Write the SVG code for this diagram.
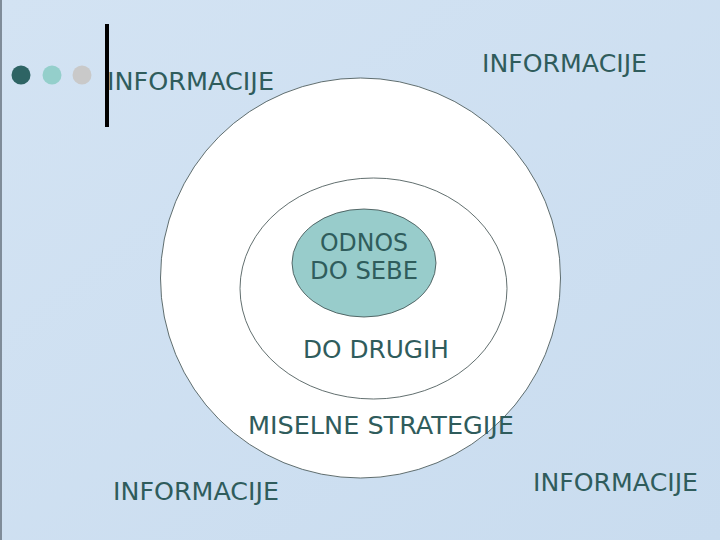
<svg xmlns="http://www.w3.org/2000/svg" width="720" height="540" viewBox="0 0 720 540">
<defs>
<style>
.t{font-family:"DejaVu Sans","Liberation Sans",sans-serif;font-size:24px;fill:#2f5c5c}
.c{fill:#ffffff;stroke:#3a4a4a;stroke-width:0.8}
</style>
<linearGradient id="bg" x1="0" y1="0" x2="1" y2="1">
<stop offset="0" stop-color="#d3e3f3"/>
<stop offset="1" stop-color="#c9dcef"/>
</linearGradient>
</defs>
<rect x="0" y="0" width="720" height="540" fill="url(#bg)"/>
<line x1="1" y1="0" x2="1" y2="540" stroke="#7f8c99" stroke-width="2"/>
<g id="decor">
<circle cx="21" cy="75" r="9.5" fill="#2e6464"/>
<circle cx="52" cy="75" r="9.5" fill="#94cfcb"/>
<circle cx="82" cy="75" r="9.5" fill="#c9c9c9"/>
<rect x="105" y="24" width="4" height="103" fill="#000"/>
</g>
<g id="outer">
<circle class="c" cx="360.5" cy="278" r="200"/>
</g>
<g id="middle">
<ellipse class="c" cx="373.5" cy="288.5" rx="133.5" ry="110.5"/>
</g>
<g id="inner">
<ellipse cx="364" cy="263" rx="72" ry="54" fill="#98cccb" stroke="#3a4a4a" stroke-width="0.8"/>
<text class="t" x="320" y="251" textLength="88" lengthAdjust="spacingAndGlyphs">ODNOS</text>
<text class="t" x="310" y="279" textLength="108" lengthAdjust="spacingAndGlyphs">DO SEBE</text>
</g>
<g id="labels">
<text class="t" x="107" y="90" textLength="167" lengthAdjust="spacingAndGlyphs">INFORMACIJE</text>
<text class="t" x="482" y="72" textLength="165" lengthAdjust="spacingAndGlyphs">INFORMACIJE</text>
<text class="t" x="303" y="358" textLength="146" lengthAdjust="spacingAndGlyphs">DO DRUGIH</text>
<text class="t" x="248" y="434" textLength="266" lengthAdjust="spacingAndGlyphs">MISELNE STRATEGIJE</text>
<text class="t" x="113" y="500" textLength="166" lengthAdjust="spacingAndGlyphs">INFORMACIJE</text>
<text class="t" x="533" y="491" textLength="165" lengthAdjust="spacingAndGlyphs">INFORMACIJE</text>
</g>
</svg>
